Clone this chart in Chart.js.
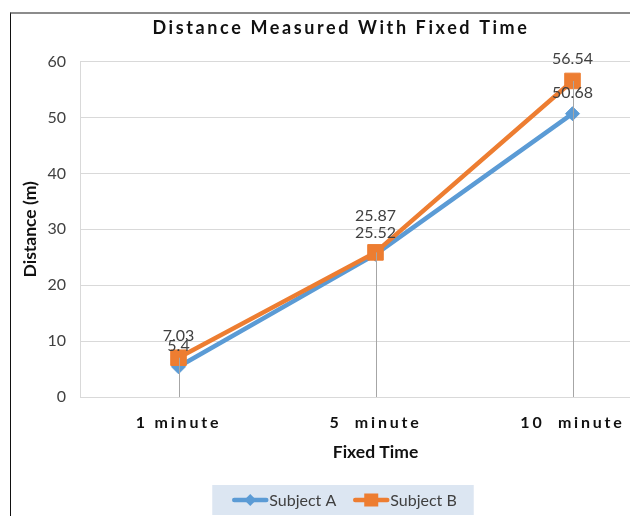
<!DOCTYPE html>
<html>
<head>
<meta charset="utf-8">
<script src="https://cdn.jsdelivr.net/npm/chart.js@4.4.1/dist/chart.umd.min.js"></script>
<style>
  html, body { margin: 0; padding: 0; background: #fff; overflow: hidden; width: 630px; height: 516px; }
  #frame { position: absolute; left: 10px; top: 12px; width: 664px; height: 502px;
           border-top: 2px solid #8c8c8c; border-left: 1px solid #111; }
  #wrap { position: absolute; left: 0; top: 0; width: 664px; height: 502px; }
</style>
</head>
<body>
<div id="frame"><div id="wrap"><canvas id="chart"></canvas></div></div>
<script>
// chart data
var categories = ['1 minute', '5  minute', '10  minute'];
var subjectA = [5.4, 25.52, 50.68];
var subjectB = [7.03, 25.87, 56.54];
var seriesNames = ['Subject A', 'Subject B'];
var yMin = 0, yMax = 60, yStep = 10;

var BLUE = '#5b9bd5';
var ORANGE = '#ed7d31';
var FONT = 'Lato, "Open Sans", sans-serif';

// wrap a draw method so its text gets letter spacing
function spaced(obj, fn, sp) {
  if (!obj || obj['_sp_' + fn]) return;
  var orig = obj[fn];
  obj[fn] = function () {
    var c = this.ctx;
    c.save();
    c.letterSpacing = sp;
    orig.apply(this, arguments);
    c.restore();
  };
  obj['_sp_' + fn] = true;
}

var letterSpacing = {
  id: 'letterSpacing',
  afterLayout: function (chart) {
    spaced(chart.titleBlock, 'draw', '2.6px');
    spaced(chart.scales.x, 'drawLabels', '2.8px');
  }
};

// drop lines from the highest point to the category axis
var dropLines = {
  id: 'dropLines',
  afterDatasetsDraw: function (chart) {
    var ctx = chart.ctx;
    var metaA = chart.getDatasetMeta(0).data;
    var metaB = chart.getDatasetMeta(1).data;
    ctx.save();
    ctx.strokeStyle = '#a6a6a6';
    ctx.lineWidth = 1;
    metaA.forEach(function (pt, i) {
      var top = Math.min(pt.y, metaB[i].y);
      var x = Math.round(pt.x) + 0.5;
      ctx.beginPath();
      ctx.moveTo(x, top);
      ctx.lineTo(x, chart.chartArea.bottom);
      ctx.stroke();
    });
    ctx.restore();
  }
};

// value labels above each point; nudge the upper one when two nearly coincide
var valueLabels = {
  id: 'valueLabels',
  afterDatasetsDraw: function (chart) {
    var ctx = chart.ctx;
    var ds = chart.data.datasets;
    var ptsA = chart.getDatasetMeta(0).data;
    var ptsB = chart.getDatasetMeta(1).data;
    ctx.save();
    ctx.font = '16px ' + FONT;
    ctx.fillStyle = '#404040';
    ctx.textAlign = 'center';
    ctx.textBaseline = 'middle';
    ptsA.forEach(function (pa, j) {
      var pb = ptsB[j];
      var ya = pa.y - 21, yb = pb.y - 22;
      if (Math.abs(ya - yb) < 6) yb = Math.min(ya, yb) - 15;
      ctx.fillText(String(ds[1].data[j]), pb.x, yb);
      ctx.fillText(String(ds[0].data[j]), pa.x, ya);
    });
    ctx.restore();
  }
};

// Excel-like legend with line + marker and a shaded box
var boxLegend = {
  id: 'boxLegend',
  afterDraw: function (chart) {
    var ctx = chart.ctx;
    var ds = chart.data.datasets;
    ctx.save();
    ctx.font = '16px ' + FONT;
    var iconW = 36, gap = 1, itemGap = 17, padL = 20, padR = 17;
    var widths = ds.map(function (d) { return iconW + gap + ctx.measureText(d.label).width; });
    var total = padL + padR + widths.reduce(function (a, b) { return a + b; }, 0) + itemGap * (ds.length - 1);
    var boxTop = chart.height - 31, boxH = 30;
    var x = chart.width / 2 - total / 2;
    ctx.fillStyle = '#dce6f2';
    ctx.fillRect(x, boxTop, total, boxH);
    var cy = boxTop + boxH / 2;
    x += padL;
    ds.forEach(function (d, i) {
      ctx.strokeStyle = d.borderColor;
      ctx.fillStyle = d.borderColor;
      ctx.lineWidth = 4.5;
      ctx.lineCap = 'round';
      ctx.beginPath();
      ctx.moveTo(x + 2, cy);
      ctx.lineTo(x + iconW - 2, cy);
      ctx.stroke();
      var mx = x + iconW / 2;
      ctx.beginPath();
      if (d.pointStyle === 'rectRot') {
        ctx.moveTo(mx, cy - 6); ctx.lineTo(mx + 6, cy); ctx.lineTo(mx, cy + 6); ctx.lineTo(mx - 6, cy);
        ctx.closePath();
        ctx.fill();
      } else {
        ctx.fillRect(mx - 7, cy - 6.5, 14, 13);
      }
      ctx.fillStyle = '#404040';
      ctx.textBaseline = 'middle';
      ctx.textAlign = 'left';
      ctx.fillText(d.label, x + iconW + gap, cy + 1);
      x += widths[i] + itemGap;
    });
    ctx.restore();
  }
};

var ctx = document.getElementById('chart').getContext('2d');
var chart = new Chart(ctx, {
  type: 'line',
  data: {
    labels: categories,
    datasets: [{
      label: seriesNames[0],
      data: subjectA,
      borderColor: BLUE,
      backgroundColor: BLUE,
      borderWidth: 4.5,
      borderJoinStyle: 'round',
      pointStyle: 'rectRot',
      pointRadius: 7,
      pointBorderWidth: 1,
      pointBackgroundColor: BLUE,
      order: 1
    }, {
      label: seriesNames[1],
      data: subjectB,
      borderColor: ORANGE,
      backgroundColor: ORANGE,
      borderWidth: 4.5,
      borderJoinStyle: 'round',
      pointStyle: 'rect',
      pointRadius: 11,
      pointBorderWidth: 1,
      pointBackgroundColor: ORANGE,
      order: 0
    }]
  },
  options: {
    responsive: true,
    maintainAspectRatio: false,
    animation: false,
    events: [],
    layout: { autoPadding: false, padding: { left: 0, right: 4, top: 0, bottom: 34 } },
    plugins: {
      legend: { display: false },
      tooltip: { enabled: false },
      title: {
        display: true,
        text: 'Distance Measured With Fixed Time',
        color: '#111',
        font: { family: FONT, size: 18, weight: 'bold' },
        padding: { top: 3, bottom: 23 }
      }
    },
    scales: {
      x: {
        type: 'category',
        offset: true,
        grid: { display: false },
        border: { display: true, color: '#d9d9d9', width: 1 },
        ticks: {
          color: '#111',
          font: { family: FONT, size: 16, weight: 'bold' },
          padding: 8,
          maxRotation: 0
        },
        title: {
          display: true,
          text: 'Fixed Time',
          color: '#111',
          font: { family: FONT, size: 17.5, weight: 'bold' },
          padding: { top: 0, bottom: 19 }
        },
        afterFit: function (scale) { scale.height = 85; }
      },
      y: {
        min: yMin,
        max: yMax,
        ticks: {
          stepSize: yStep,
          color: '#404040',
          font: { family: FONT, size: 16 },
          padding: 14
        },
        grid: { color: '#d9d9d9', drawTicks: false },
        border: { display: true, color: '#d9d9d9' },
        title: {
          display: true,
          text: 'Distance (m)',
          color: '#111',
          font: { family: FONT, size: 17.5, weight: 'bold' },
          padding: { top: 9, bottom: 0 }
        },
        afterFit: function (scale) { scale.width = 69; }
      }
    }
  },
  plugins: [letterSpacing, dropLines, valueLabels, boxLegend]
});
</script>
</body>
</html>
